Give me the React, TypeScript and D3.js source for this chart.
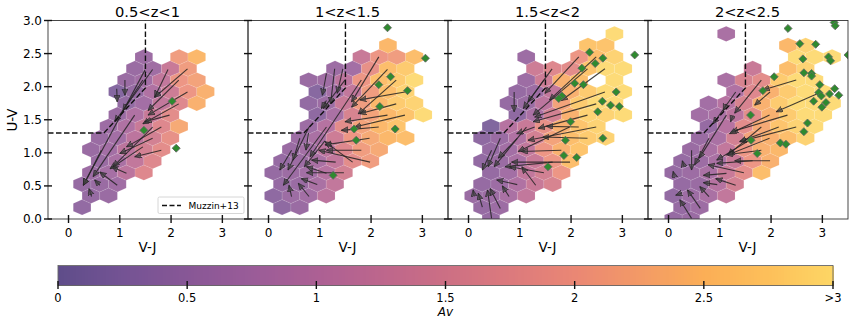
import * as React from 'react';
import * as d3 from 'd3';

const panelTitles = ['0.5<z<1', '1<z<1.5', '1.5<z<2', '2<z<2.5'];
const xTicks = [0, 1, 2, 3];
const yTicks = [0, 0.5, 1, 1.5, 2, 2.5, 3];
const cbarTicks = [0, 0.5, 1, 1.5, 2, 2.5, 3];
const cbarLabels = ['0', '0.5', '1', '1.5', '2', '2.5', '>3'];
const cmapAv = [0, 0.25, 0.5, 0.75, 1, 1.25, 1.5, 1.75, 2, 2.25, 2.5, 2.75, 3];
const cmapColors = ['#5f4d8a', '#745394', '#885796', '#9a5c98', '#ac6094', '#bd668c', '#cc6f84', '#dc7a7d', '#ea8774', '#f39a66', '#fbae56', '#fdc05a', '#fdd665'];

// hexbin lattice in V-J, U-V units
const gridX0 = 0.265;
const gridDx = 0.344;
const gridY0 = 0.177;
const gridDy = 0.1747;

// [row, first column, Av of each cell]
type HexRow = [number, number, number[]];
const hex1: HexRow[] = [
  [0, 0, [0.45]],
  [1, 1, [0.5, 0.55]],
  [2, 0, [0.5, 0.55, 0.65]],
  [3, 1, [0.6, 0.75, 1.1, 1.7]],
  [4, 1, [0.55, 0.8, 1.2, 1.7]],
  [5, 1, [0.55, 0.7, 1.1, 1.5, 1.8]],
  [6, 1, [0.55, 0.7, 1.1, 1.5, 1.9]],
  [7, 2, [0.6, 0.9, 1.3, 1.7, 2.3]],
  [8, 2, [0.55, 0.9, 1.3, 1.8]],
  [9, 3, [0.45, 0.7, 1.2, 1.7, 2.4]],
  [10, 2, [0.25, 0.5, 0.9, 1.4, 2.0, 2.4]],
  [11, 3, [0.55, 0.7, 1.2, 2.0, 2.2]],
  [12, 3, [0.55, 0.65, 1.3, 2.1]],
  [13, 4, [0.6]],
  [13, 6, [2.1, 2.5]],
];
const hex2: HexRow[] = [
  [0, 0, [0.4, 0.55]],
  [1, 0, [0.4, 0.6, 0.7, 1.1]],
  [2, 0, [0.5, 0.55, 0.8, 1.2]],
  [3, 0, [0.5, 0.6, 0.7, 1.0, 1.5]],
  [4, 0, [0.5, 0.6, 0.8, 1.2, 1.8, 2.1]],
  [5, 1, [0.55, 0.7, 1.1, 1.7, 2.1, 2.3]],
  [6, 1, [0.6, 0.8, 1.4, 2.0, 2.3, 2.5, 2.6]],
  [7, 2, [0.6, 1.0, 1.8, 2.2, 2.5, 2.7]],
  [8, 2, [0.4, 0.8, 1.6, 2.2, 2.5, 2.7, 3.0]],
  [9, 2, [0.45, 0.6, 1.3, 2.1, 2.5, 2.8, 2.9]],
  [10, 2, [0.3, 0.7, 1.2, 2.1, 2.6, 2.9]],
  [11, 2, [0.55, 0.65, 1.1, 2.0, 2.6, 2.8, 3.0]],
  [12, 3, [0.6, 0.7, 1.9, 2.6, 2.8]],
  [13, 5, [1.3, 2.0, 2.1, 2.6]],
  [14, 6, [2.5]],
];
const hex3: HexRow[] = [
  [-1, 1, [0.5]],
  [0, 0, [0.5, 0.6]],
  [1, 0, [0.55, 0.6, 0.8, 1.2]],
  [2, 0, [0.5, 0.6, 0.9, 1.3, 1.6]],
  [3, 1, [0.5, 0.7, 1.2, 1.5, 2.0]],
  [4, 0, [0.45, 0.55, 0.8, 1.3, 2.0, 2.6]],
  [5, 1, [0.5, 0.7, 1.2, 2.0, 2.4, 2.7]],
  [6, 0, [0.4, 0.55, 0.9, 1.5, 2.2, 2.6, 2.8, 2.9]],
  [7, 1, [0.2, 1.0, 1.3, 1.9, 2.4, 2.7, 2.9]],
  [8, 2, [0.4, 0.8, 1.5, 2.4, 2.9, 2.9, 3.0]],
  [9, 2, [0.5, 0.55, 1.1, 2.2, 2.8, 3.0, 3.0]],
  [10, 2, [0.5, 0.6, 1.2, 2.4, 2.8, 3.0, 3.0]],
  [11, 3, [0.6, 1.4, 2.4, 2.6]],
  [11, 8, [3.0]],
  [12, 3, [1.4, 1.7, 1.8, 2.7, 3.0, 3.0]],
  [13, 3, [0.6]],
  [13, 6, [2.0, 2.6, 2.9]],
  [14, 6, [2.7, 2.7]],
  [15, 8, [3.0]],
];
const hex4: HexRow[] = [
  [-1, 0, [0.5, 0.55]],
  [0, 0, [0.5, 0.6]],
  [1, 0, [0.45, 0.6, 0.8, 1.2]],
  [2, 0, [0.5, 0.55, 1.0, 1.5]],
  [3, 0, [0.5, 0.6, 0.8, 1.3, 1.8, 2.6]],
  [4, 0, [0.5, 0.6, 0.8, 1.3, 2.0, 2.4]],
  [5, 1, [0.55, 0.8, 1.2, 2.0, 2.4, 2.5]],
  [6, 1, [0.55, 0.8, 1.5, 2.2, 2.4, 2.6, 2.9]],
  [7, 2, [0.5, 1.0, 1.8, 2.3, 2.7, 2.9, 3.0]],
  [8, 1, [0.7, 0.8, 1.1, 1.8, 2.4, 2.8, 3.0, 3.0]],
  [9, 2, [0.7, 1.0, 1.6, 2.4, 2.8, 3.0, 3.0, 3.0]],
  [10, 3, [0.9, 1.7, 2.4, 2.8, 3.0, 3.0]],
  [11, 3, [0.8, 1.6, 1.8, 2.8, 3.0, 3.0]],
  [12, 4, [1.3]],
  [12, 6, [2.6, 2.9]],
  [13, 7, [3.0, 3.0]],
  [13, 9, [3.0]],
  [14, 6, [2.5, 2.9]],
  [15, 3, [0.8]],
];

// [tail V-J, tail U-V, head V-J, head U-V]
type Arrow = [number, number, number, number];
const arrows1: Arrow[] = [
  [1.64, 2.26, 0.9, 1.47], [1.94, 2.26, 1.68, 1.84], [2.32, 2.27, 1.68, 1.84], [2.15, 2.1, 1.55, 1.64],
  [2.32, 1.92, 1.55, 1.57], [2.15, 1.74, 1.45, 1.44], [1.97, 1.57, 1.49, 1.47], [1.81, 1.39, 1.13, 1.09],
  [1.64, 1.22, 1.0, 0.99], [1.81, 1.04, 1.29, 0.94], [1.1, 2.1, 1.1, 1.87], [0.94, 1.97, 0.95, 1.77],
  [1.45, 2.1, 1.06, 1.64], [1.49, 2.25, 0.29, 0.51], [1.29, 1.57, 0.48, 0.64], [1.13, 0.69, 0.84, 0.79],
  [0.95, 0.51, 0.61, 0.71], [0.61, 0.51, 0.51, 0.59], [0.45, 0.34, 0.4, 0.46], [0.64, 1.04, 0.29, 0.51],
  [1.45, 1.09, 0.81, 0.76], [1.64, 1.39, 0.87, 0.79],
];
const arrows2: Arrow[] = [
  [2.15, 2.45, 1.62, 1.77], [2.32, 2.26, 1.62, 1.69], [2.49, 2.1, 1.75, 1.59], [2.66, 1.92, 1.78, 1.8],
  [2.49, 1.74, 1.78, 1.59], [2.66, 1.57, 1.68, 1.39], [2.32, 1.57, 1.49, 1.47], [2.15, 1.39, 1.42, 1.34],
  [1.97, 1.22, 1.1, 1.12], [1.81, 1.04, 1.13, 1.04], [1.98, 0.86, 0.98, 1.04], [1.64, 0.86, 1.1, 1.17],
  [1.47, 0.7, 0.74, 0.7], [1.31, 0.86, 0.84, 0.89], [1.13, 0.69, 0.74, 0.79], [0.95, 0.52, 0.64, 0.61],
  [0.79, 0.34, 0.58, 0.54], [0.45, 0.34, 0.4, 0.51], [1.81, 2.1, 0.81, 0.94], [1.49, 2.1, 1.07, 1.67],
  [1.29, 2.27, 1.21, 1.74], [1.13, 2.2, 1.05, 1.87], [1.45, 2.27, 1.34, 1.9], [1.13, 1.79, 1.03, 1.67],
  [1.13, 1.39, 0.29, 0.51], [0.79, 1.39, 0.38, 0.74], [0.61, 1.22, 0.48, 0.89], [0.45, 1.04, 0.22, 0.74],
  [0.78, 1.3, 0.73, 1.04], [1.1, 1.18, 0.7, 0.79],
];
const arrows3: Arrow[] = [
  [1.63, 2.27, 1.16, 1.77], [1.47, 2.1, 1.07, 1.67], [2.15, 2.45, 1.49, 1.9], [2.32, 2.27, 1.26, 1.57],
  [2.49, 2.45, 1.58, 1.8], [2.66, 2.27, 1.81, 1.79], [2.66, 1.92, 1.29, 1.54], [2.49, 1.74, 1.26, 1.47],
  [2.32, 1.57, 1.36, 1.37], [2.15, 1.39, 1.52, 1.4], [2.49, 1.39, 1.16, 1.19], [2.32, 1.22, 1.45, 1.24],
  [1.97, 1.39, 0.97, 1.02], [1.81, 1.04, 1.03, 1.02], [1.98, 0.86, 0.84, 0.86], [1.64, 0.86, 0.71, 0.79],
  [1.47, 0.7, 0.8, 0.79], [1.31, 0.51, 1.04, 0.79], [0.95, 0.52, 0.55, 0.59], [0.79, 0.34, 0.66, 0.5],
  [0.62, 0.16, 0.42, 0.46], [0.45, 0.01, 0.37, 0.44], [0.27, 0.18, 0.19, 0.39], [0.95, 1.22, 0.58, 0.92],
  [0.62, 1.22, 0.38, 0.79], [0.45, 1.04, 0.27, 0.74], [0.89, 1.92, 0.89, 1.62], [0.11, 0.34, 0.09, 0.44],
  [1.29, 1.39, 0.94, 1.29], [1.13, 1.39, 0.5, 0.79],
];
const arrows4: Arrow[] = [
  [2.49, 2.1, 1.84, 1.95], [1.98, 1.92, 1.68, 1.72], [1.81, 2.1, 1.29, 1.6], [2.98, 1.92, 2.1, 1.62],
  [2.32, 1.57, 1.23, 1.32], [1.97, 1.57, 1.19, 1.29], [2.15, 1.39, 1.39, 1.17], [2.49, 1.39, 1.39, 1.17],
  [1.81, 1.39, 1.16, 0.97], [1.97, 1.22, 1.16, 0.97], [1.64, 1.22, 0.94, 0.89], [1.81, 1.04, 1.13, 0.97],
  [1.98, 0.88, 1.29, 0.88], [1.64, 0.88, 0.94, 0.84], [1.47, 0.7, 0.77, 0.82], [1.13, 0.69, 0.68, 0.66],
  [1.31, 0.51, 0.92, 0.61], [0.95, 0.52, 0.68, 0.55], [0.79, 0.34, 0.61, 0.49], [0.45, 0.01, 0.22, 0.29],
  [0.62, 0.16, 0.37, 0.44], [0.25, 0.39, 0.14, 0.36], [0.45, 1.04, 0.45, 0.74], [0.79, 1.22, 0.51, 0.82],
  [1.31, 1.92, 0.87, 1.44], [1.13, 1.57, 0.6, 0.92], [0.11, 0.66, 0.09, 0.72], [0.3, 0.8, 0.27, 0.88],
  [1.13, 1.74, 1.07, 1.64], [1.26, 1.57, 1.21, 1.47],
];

// [V-J, U-V]
const points1: [number, number][] = [[2.02, 1.78], [1.47, 1.34], [2.1, 1.07]];
const points2: [number, number][] = [
  [2.32, 2.89], [3.06, 2.43], [2.38, 2.15], [2.15, 2.03], [2.71, 1.94], [2.17, 1.7], [1.67, 1.36], [2.47, 1.36],
  [1.71, 1.19], [1.26, 0.66],
];
const points3: [number, number][] = [
  [3.24, 2.48], [2.36, 2.52], [2.62, 2.43], [2.47, 2.35], [2.21, 2.28], [2.07, 2.05], [2.24, 2.03], [2.88, 1.92],
  [1.82, 1.86], [1.76, 1.82], [2.61, 1.78], [2.77, 1.72], [2.94, 1.7], [2.52, 1.62], [1.99, 1.47], [2.62, 1.22],
  [1.89, 1.19], [1.86, 0.96], [2.11, 0.93], [1.55, 0.79],
];
const points4: [number, number][] = [
  [2.33, 2.88], [3.23, 2.97], [3.25, 2.92], [2.56, 2.65], [2.87, 2.64], [3.12, 2.45], [3.16, 2.39], [2.62, 2.42],
  [3.5, 2.48], [2.06, 2.15], [2.64, 2.21], [2.79, 2.2], [2.79, 2.16], [2.95, 2.03], [3.24, 1.97], [3.32, 1.87],
  [3.14, 1.89], [2.93, 1.91], [2.98, 1.86], [2.83, 1.78], [3.07, 1.76], [2.99, 1.69], [1.84, 1.94], [1.6, 1.57],
  [2.71, 1.45], [2.64, 1.32], [1.61, 1.19], [2.18, 1.15], [2.29, 1.13], [1.73, 0.99],
];
const muzzinVJ = [-0.4, 0.69, 1.5, 1.5];
const muzzinUV = [1.3, 1.3, 1.98, 3.0];

const hexes = [hex1, hex2, hex3, hex4];
const arrows = [arrows1, arrows2, arrows3, arrows4];
const points = [points1, points2, points3, points4];

const panelLeft = [48, 248, 448, 648];
const panelWidth = 200;
const top = 20.5;
const bottom = 219;
const font = '"DejaVu Sans", sans-serif';
const color = d3.scaleLinear<string>().domain(cmapAv).range(cmapColors).clamp(true);
const hexHalfW = gridDx / 2;
const hexHalfH = gridDy * 2 / 3;
const hexShape: [number, number][] = [[0, 1], [1, 0.5], [1, -0.5], [0, -1], [-1, -0.5], [-1, 0.5]];

function Panel({ index }: { index: number }) {
  const left = panelLeft[index];
  const x = d3.scaleLinear().domain([-0.4, 3.5]).range([left, left + panelWidth]);
  const y = d3.scaleLinear().domain([0, 3]).range([bottom, top]);
  const line = d3.line<[number, number]>().x(d => x(d[0])).y(d => y(d[1]));
  const cells = hexes[index].flatMap(([row, start, avs]) =>
    avs.map((av, i) => {
      const cx = gridX0 + gridDx * (start + i) - (row % 2 !== 0 ? gridDx / 2 : 0);
      const cy = gridY0 + gridDy * row;
      const pts = hexShape.map(([a, b]) => [cx + a * hexHalfW, cy + b * hexHalfH] as [number, number]);
      return { d: line(pts) + 'Z', av };
    }));
  const diamond = d3.symbol().type(d3.symbolSquare).size(32)();
  return (
    <g>
      <clipPath id={`clip${index}`}>
        <rect x={left} y={top} width={panelWidth} height={bottom - top} />
      </clipPath>
      <g clipPath={`url(#clip${index})`}>
        {cells.map((c, i) => (
          <path key={i} d={c.d} fill={color(c.av)} fillOpacity={0.88} stroke="#fff" strokeOpacity={0.12} strokeWidth={0.8} />
        ))}
        {arrows[index].map((a, i) => (
          <line key={i} x1={x(a[0])} y1={y(a[1])} x2={x(a[2])} y2={y(a[3])}
            stroke="#222" strokeOpacity={0.85} strokeWidth={1.1} markerEnd="url(#head)" />
        ))}
        {points[index].map((p, i) => (
          <path key={i} d={diamond!} transform={`translate(${x(p[0])},${y(p[1])}) rotate(45)`}
            fill="#2f8a2f" stroke="#666" strokeWidth={0.8} />
        ))}
      </g>
      <path d={line(muzzinVJ.map((v, i) => [v, muzzinUV[i]] as [number, number]))!} fill="none"
        stroke="#111" strokeWidth={1.4} strokeDasharray="5.5 2.5" />
      <rect x={left} y={top} width={panelWidth} height={bottom - top} fill="none" stroke="#333" strokeWidth={0.9} />
      {xTicks.map(t => (
        <g key={t}>
          <line x1={x(t)} x2={x(t)} y1={bottom - 4} y2={bottom + 4} stroke="#111" strokeWidth={1.4} />
          <text x={x(t)} y={bottom + 18} textAnchor="middle" fontSize={12} fontFamily={font}>{t}</text>
        </g>
      ))}
      {yTicks.map(t => (
        <g key={t}>
          <line x1={left - 4} x2={left + 4} y1={y(t)} y2={y(t)} stroke="#111" strokeWidth={1.4} />
          {index === 0 && (
            <text x={left - 6} y={y(t) + 4.3} textAnchor="end" fontSize={12} fontFamily={font}>{t.toFixed(1)}</text>
          )}
        </g>
      ))}
      <text x={x(1.54)} y={17} textAnchor="middle" fontSize={14.7} fontFamily={font}>{panelTitles[index]}</text>
      <text x={x(1.54)} y={252} textAnchor="middle" fontSize={13.5} fontFamily={font}>V-J</text>
      {index === 0 && (
        <g>
          <text transform="translate(17,120) rotate(-90)" textAnchor="middle" fontSize={13.5} fontFamily={font}>U-V</text>
          <rect x={158} y={197} width={86} height={16.5} rx={1.5} fill="#fff" stroke="#ccc" strokeWidth={0.8} />
          <line x1={162} x2={181} y1={205.5} y2={205.5} stroke="#111" strokeWidth={1.3} strokeDasharray="5 2.5" />
          <text x={188.5} y={208.7} fontSize={9} fontFamily={font}>Muzzin+13</text>
        </g>
      )}
    </g>
  );
}

export default function App() {
  const cx = d3.scaleLinear().domain([0, 3]).range([58, 833]);
  const steps = d3.range(0, 3, 3 / 256);
  return (
    <svg width={854} height={324} style={{ position: 'absolute', left: 0, top: 0, background: '#fff' }}>
      <defs>
        <marker id="head" markerUnits="userSpaceOnUse" markerWidth={9} markerHeight={8} refX={6.5} refY={3} orient="auto">
          <path d="M0,0L6.5,3L0,6Z" fill="#444" fillOpacity={0.7} stroke="#222" strokeWidth={0.6} />
        </marker>
      </defs>
      {panelTitles.map((_, i) => <Panel key={i} index={i} />)}
      {steps.map(v => (
        <rect key={v} x={Math.floor(cx(v))} y={265.5} width={Math.ceil(cx(3 / 256) - cx(0)) + 1} height={20} fill={color(v)} shapeRendering="crispEdges" />
      ))}
      <rect x={58} y={265.5} width={775} height={20} fill="none" stroke="#666" strokeWidth={0.9} />
      {cbarTicks.map((t, i) => (
        <g key={t}>
          <line x1={cx(t)} x2={cx(t)} y1={281} y2={289} stroke="#111" strokeWidth={1.4} />
          <text x={cx(t)} y={301.5} textAnchor="middle" fontSize={11.5} fontFamily={font}>{cbarLabels[i]}</text>
        </g>
      ))}
      <text x={445.5} y={316} textAnchor="middle" fontSize={12} fontStyle="italic" fontFamily={font}>Av</text>
    </svg>
  );
}
